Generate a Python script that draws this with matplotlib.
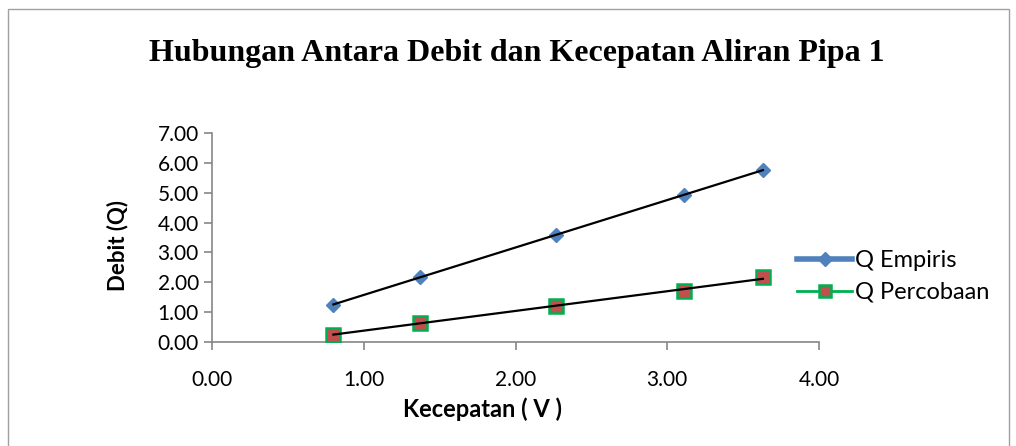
import numpy as np
import matplotlib.pyplot as plt
from matplotlib.lines import Line2D
from matplotlib.patches import Rectangle

# values
kecepatan = [0.80, 1.37, 2.27, 3.11, 3.63]
q_empiris = [1.25, 2.17, 3.60, 4.93, 5.75]
q_percobaan = [0.24, 0.65, 1.22, 1.70, 2.17]

x_ticks = [0, 1, 2, 3, 4]
y_ticks = [0, 1, 2, 3, 4, 5, 6, 7]

BLUE = '#4F81BD'
RED = '#C0504D'
GREEN = '#00B050'
GRAY = '#868686'
SANS = ['Lato', 'DejaVu Sans']

fig = plt.figure(figsize=(10.16, 4.46), dpi=100)
fig.patches.append(Rectangle((0.008, -0.01), 0.985, 0.99, transform=fig.transFigure,
                             fill=False, edgecolor='#A0A0A0', linewidth=1.0))
ax = fig.add_axes([0.2087, 0.2332, 0.5974, 0.4686])

ax.plot(kecepatan, q_empiris, linestyle='none', marker='D', markersize=7.5,
        color=BLUE, markeredgecolor=BLUE, zorder=3)
ax.plot(kecepatan, q_percobaan, linestyle='none', marker='s', markersize=10,
        markerfacecolor=RED, markeredgecolor=GREEN, markeredgewidth=1.8, zorder=3)

# linear trendlines
for ys in (q_empiris, q_percobaan):
    k, b = np.polyfit(kecepatan, ys, 1)
    xs = np.array([kecepatan[0], kecepatan[-1]])
    ax.plot(xs, k * xs + b, color='black', linewidth=1.6, zorder=4)

ax.set_xlim(0, 4)
ax.set_ylim(0, 7)
ax.set_xticks(x_ticks)
ax.set_yticks(y_ticks)
ax.set_xticklabels([f'{v:.2f}' for v in x_ticks], fontsize=15, family=SANS)
ax.set_yticklabels([f'{v:.2f}' for v in y_ticks], fontsize=15, family=SANS)
ax.tick_params(axis='both', direction='out', length=6, color=GRAY, width=1.2)
ax.tick_params(axis='x', pad=14)
for side in ('top', 'right'):
    ax.spines[side].set_visible(False)
for side in ('left', 'bottom'):
    ax.spines[side].set_color(GRAY)
    ax.spines[side].set_linewidth(1.2)

ax.set_xlabel('Kecepatan ( V )', fontsize=17, fontweight='bold', family=SANS)
ax.xaxis.set_label_coords(0.446, -0.265)
ax.set_ylabel('Debit (Q)', fontsize=16, fontweight='bold', family=SANS)
ax.yaxis.set_label_coords(-0.138, 0.46)

fig.text(0.509, 0.88, 'Hubungan Antara Debit dan Kecepatan Aliran Pipa 1',
         ha='center', va='center', fontsize=23, fontweight='bold',
         family=['Liberation Serif', 'DejaVu Serif'])

handles = [
    Line2D([], [], color=BLUE, linewidth=4, marker='D', markersize=7.5,
           markerfacecolor=BLUE, markeredgecolor=BLUE),
    Line2D([], [], color=GREEN, linewidth=2, marker='s', markersize=9,
           markerfacecolor=RED, markeredgecolor=GREEN, markeredgewidth=1.8),
]
fig.legend(handles, ['Q Empiris', 'Q Percobaan'], loc='center left',
           bbox_to_anchor=(0.764, 0.38), frameon=False, handlelength=2.3,
           handletextpad=0.15, labelspacing=0.45, prop={'family': SANS, 'size': 17})

fig.savefig('out.png', dpi=100)
